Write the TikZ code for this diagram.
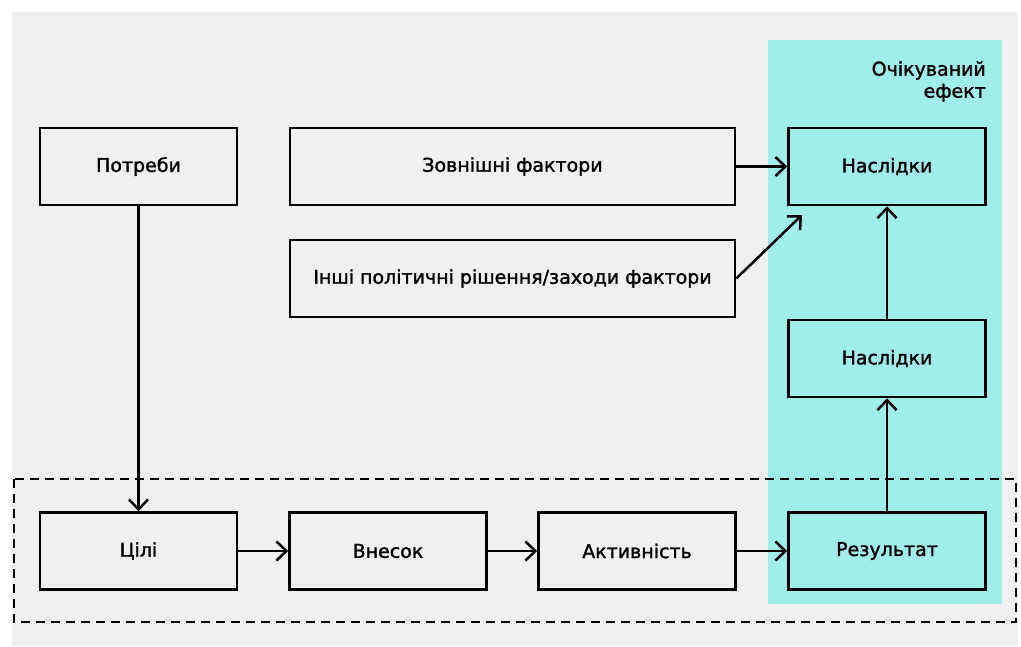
\documentclass[tikz,border=0pt]{standalone}
\usepackage{fontspec}
\setmainfont{DejaVu Sans}
\usepackage{tikz}
\usetikzlibrary{arrows,arrows.meta,calc,backgrounds}

\definecolor{bggrey}{HTML}{F0F0F0}
\definecolor{effectcyan}{HTML}{A0EEEA}

\newcommand{\boxfont}{\fontsize{19}{22}\selectfont\addfontfeature{FakeBold=1.6}}

\tikzset{
    block/.style={draw, line width=2.5pt, minimum width=197pt, minimum height=77pt, font=\boxfont, inner sep=0pt},
    wideblock/.style={block, minimum width=445pt},
    flow/.style={line width=2.5pt, -{Straight Barb[length=10pt, width=19pt, line width=2.5pt]}}
}

\begin{document}
\begin{tikzpicture}[x=1pt, y=-1pt]
    \useasboundingbox (0, 0) rectangle (1021, 646);
    \fill[bggrey] (12, 12) rectangle (1018, 646);
    \fill[effectcyan] (768, 40) rectangle (1002, 604);
    \draw[line width=2.5pt, dash pattern=on 9pt off 6pt] (14, 479) rectangle (1016, 622);

    \node[align=right, anchor=north east, font=\boxfont, inner sep=0pt] (effect) at (986, 61) {Очікуваний\\ефект};

    \node[block] (needs) at (138.5, 166.5) {Потреби};
    \node[wideblock] (external) at (512.5, 166.5) {Зовнішні фактори};
    \node[block] (impact) at (887, 166.5) {Наслідки};
    \node[wideblock] (policies) at (512.5, 278.5) {Інші політичні рішення/заходи фактори};
    \node[block] (outcome) at (887, 358.5) {Наслідки};

    \node[block] (goals) at (138.5, 551) {Цілі};
    \node[block] (input) at (388, 551) {Внесок};
    \node[block] (activity) at (637, 551) {Активність};
    \node[block] (result) at (887, 551) {Результат};

    \coordinate (policytip) at (802, 215);

    \draw[flow] (needs) -- (goals);
    \draw[flow] (goals) -- (input);
    \draw[flow] (input) -- (activity);
    \draw[flow] (activity) -- (result);
    \draw[flow] (external) -- (impact);
    \draw[flow] (policies.east) -- (policytip);
    \draw[flow] (result) -- (outcome);
    \draw[flow] (outcome) -- (impact);
\end{tikzpicture}
\end{document}
